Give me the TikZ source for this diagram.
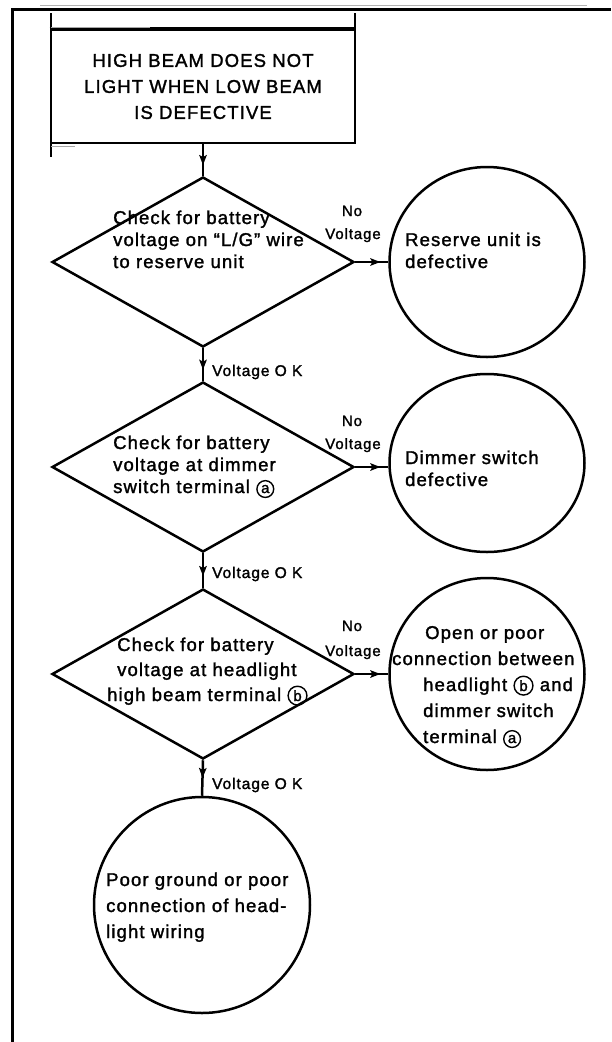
\documentclass[tikz,border=0pt]{standalone}
\usepackage{fontspec}
\setmainfont{Liberation Sans}[LetterSpace=6,FakeBold=1.6]
\usetikzlibrary{shapes.geometric,decorations.markings,arrows.meta}

% circled terminal letter
\newcommand\termltr[1]{\tikz[baseline=(L.base)]\node[circle,draw,line width=1.4pt,inner sep=1.8pt,font=\fontsize{15}{15}\selectfont](L){#1};}

\tikzset{
  shape line/.style={draw,line width=2.5pt},
  check/.style={shape line,diamond,minimum width=302pt,minimum height=170pt,inner sep=0pt},
  result/.style={shape line,ellipse,inner sep=0pt},
  body/.style={inner sep=0pt,anchor=base west,align=left,font=\fontsize{18.5}{22}\selectfont},
  tag/.style={inner sep=0pt,anchor=base,font=\fontsize{15}{15}\selectfont},
  oktag/.style={inner sep=0pt,anchor=base west,font=\fontsize{15.5}{15.5}\selectfont},
  flow/.style={line width=2.5pt,postaction={decorate},
    decoration={markings,mark=at position #1 with {\arrow{Stealth[length=10pt,width=7.5pt,inset=2pt]}}}},
  flow/.default=0.65
}

\begin{document}
\begin{tikzpicture}[x=1pt,y=-1pt]
\useasboundingbox (0,0) rectangle (611,1042);

% page frame
\draw[line width=3pt] (12,1042) -- (12,9) -- (611,9);
\draw[gray!60,line width=0.8pt] (40,5) -- (587,5);

% heading box
\node[draw,line width=2.6pt,minimum width=304pt,minimum height=113pt,inner sep=0pt,
      align=center,font=\fontsize{18.5}{26}\selectfont] (head) at (203,86.5)
  {HIGH BEAM DOES NOT\\LIGHT WHEN LOW BEAM\\IS DEFECTIVE};
\draw[line width=4pt] (head.north west) -- (head.north east);
\draw[line width=2.6pt] (51,13) -- (51,157);
\draw[line width=2.6pt] (355,13) -- (355,143);
\draw[gray!70,line width=0.8pt] (51,27) -- (150,27);
\draw[gray!70,line width=0.8pt] (51,146) -- (75,146);

% checks
\node[check] (d1) at (203,262) {};
\node[check] (d2) at (203,467) {};
\node[check] (d3) at (203,674) {};

% results
\node[result,minimum width=195pt,minimum height=190pt] (c1) at (487,262) {};
\node[result,minimum width=195pt,minimum height=178pt] (c2) at (487,463) {};
\node[result,minimum width=195pt,minimum height=192pt] (c3) at (487,674) {};
\node[result,minimum width=216pt,minimum height=216pt] (c4) at (202,905) {};

% connectors
\draw[flow=0.66] (head.south) -- (d1.north);
\draw[flow=0.76] (d1.east) -- (c1.west);
\draw[flow=0.66] (d1.south) -- (d2.north);
\draw[flow=0.76] (d2.east) -- (d2.east -| c2.west);
\draw[flow=0.66] (d2.south) -- (d3.north);
\draw[flow=0.76] (d3.east) -- (c3.west);
\draw[flow=0.5] (d3.south) -- (c4.north);

% text in the checks (anchored at the last line's baseline)
\node[body] (t1) at (113,268) {Check for battery\\voltage on ``L/G'' wire\\to reserve unit};
\node[body] (t2) at (113,493) {Check for battery\\voltage at dimmer\\switch terminal \termltr{a}};
\node[body,font=\fontsize{18.5}{25}\selectfont] (t3) at (107,701)
  {\hspace*{10pt}Check for battery\\\hspace*{10pt}voltage at headlight\\high beam terminal \termltr{b}};

% text in the results
\node[body] (r1) at (405,268) {Reserve unit is\\defective};
\node[body] (r2) at (405,486) {Dimmer switch\\defective};
\node[body,font=\fontsize{18.5}{26}\selectfont] (r3) at (392,743)
  {\hspace*{33pt}Open or poor\\connection between\\\hspace*{31pt}headlight \termltr{b} and\\\hspace*{31pt}dimmer switch\\\hspace*{31pt}terminal \termltr{a}};
\node[body,font=\fontsize{18.5}{26}\selectfont] (r4) at (106,938)
  {Poor ground or poor\\connection of head-\\light wiring};

% branch labels
\node[tag] (n1) at (352,216) {No};
\node[tag] (v1) at (353,239) {Voltage};
\node[tag] (n2) at (352,426) {No};
\node[tag] (v2) at (353,449) {Voltage};
\node[tag] (n3) at (352,631) {No};
\node[tag] (v3) at (353,656) {Voltage};
\node[oktag] (k1) at (212,376) {Voltage O K};
\node[oktag] (k2) at (212,578) {Voltage O K};
\node[oktag] (k3) at (212,789) {Voltage O K};
\end{tikzpicture}
\end{document}
